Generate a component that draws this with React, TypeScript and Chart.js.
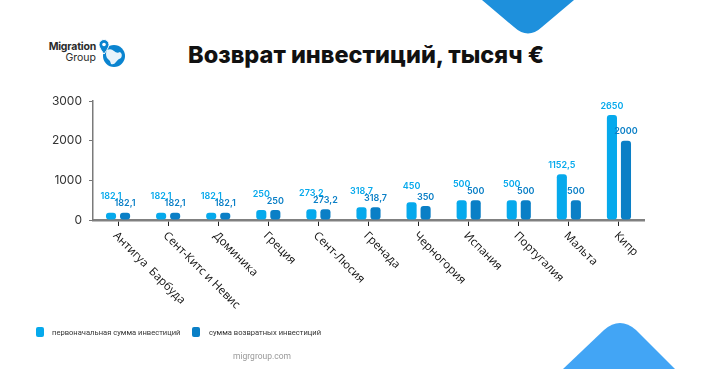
import React, { useEffect, useRef } from "react";
import { Chart, registerables } from "chart.js";
Chart.register(...registerables);

const categories = [
  "Антигуа  Барбуда",
  "Сент-Китс и Невис",
  "Доминика",
  "Греция",
  "Сент-Люсия",
  "Гренада",
  "Черногория",
  "Испания",
  "Португалия",
  "Мальта",
  "Кипр",
];
const initialInvestment = [182.1, 182.1, 182.1, 250, 273.2, 318.7, 450, 500, 500, 1152.5, 2650];
const returnedInvestment = [182.1, 182.1, 182.1, 250, 273.2, 318.7, 350, 500, 500, 500, 2000];
const yTicks = [0, 1000, 2000, 3000];
const seriesNames = ["первоначальная сумма инвестиций", "сумма возвратных инвестиций"];
const seriesColors = ["#06a9ec", "#0a7fc6"];
const title = "Возврат инвестиций, тысяч €";
const footer = "migrgroup.com";

const fmt = (v: number) => String(v).replace(".", ",");

const labelsPlugin = {
  id: "customLabels",
  afterDatasetsDraw(chart: any) {
    const ctx = chart.ctx;
    ctx.save();
    chart.data.datasets.forEach((ds: any, di: number) => {
      const meta = chart.getDatasetMeta(di);
      meta.data.forEach((bar: any, i: number) => {
        const v = ds.data[i];
        const other = chart.data.datasets[1 - di].data[i];
        let off = 9;
        if (di === 0 && v - other < 200) off = 16;
        ctx.font = "600 9px Inter, 'Noto Sans', sans-serif";
        ctx.fillStyle = ds.backgroundColor;
        ctx.textAlign = "center";
        ctx.textBaseline = "middle";
        ctx.fillText(fmt(v), bar.x, bar.y - off);
      });
    });
    const xs = chart.scales.x;
    ctx.font = "500 11.5px 'Open Sans', 'Noto Sans', sans-serif";
    ctx.fillStyle = "#111";
    ctx.textAlign = "left";
    ctx.textBaseline = "middle";
    chart.data.labels.forEach((c: string, i: number) => {
      const x = xs.getPixelForValue(i);
      ctx.save();
      ctx.translate(x - 3, chart.chartArea.bottom + 14);
      ctx.rotate(Math.PI / 4);
      ctx.fillText(c, 0, 0);
      ctx.restore();
    });
    ctx.restore();
  },
};

export default function App() {
  const ref = useRef<HTMLCanvasElement>(null);
  useEffect(() => {
    const chart = new Chart(ref.current!, {
      type: "bar",
      data: {
        labels: categories,
        datasets: [
          {
            label: seriesNames[0],
            data: initialInvestment,
            backgroundColor: seriesColors[0],
            borderRadius: 3,
            borderSkipped: false,
          },
          {
            label: seriesNames[1],
            data: returnedInvestment,
            backgroundColor: seriesColors[1],
            borderRadius: 3,
            borderSkipped: false,
          },
        ],
      },
      options: {
        animation: false,
        responsive: false,
        maintainAspectRatio: false,
        datasets: { bar: { categoryPercentage: 0.56, barPercentage: 0.72 } } as any,
        layout: { padding: { left: 0, top: 101, right: 76, bottom: 0 } },
        plugins: { legend: { display: false }, tooltip: { enabled: false } },
        scales: {
          x: {
            afterFit: (s: any) => {
              s.height = 149;
            },
            ticks: { display: false },
            grid: {
              offset: false,
              drawOnChartArea: false,
              drawTicks: true,
              tickLength: 6,
              color: "#222",
              lineWidth: 1,
            },
            border: { color: "#808080", width: 2.5 },
          },
          y: {
            min: 0,
            max: 3000,
            afterFit: (s: any) => {
              s.width = 93;
            },
            afterBuildTicks: (s: any) => {
              s.ticks = yTicks.map((v) => ({ value: v }));
            },
            ticks: {
              callback: (v: any) => String(v),
              color: "#333",
              padding: 7,
              font: { size: 12, family: "Inter, 'Noto Sans', sans-serif" },
            },
            grid: {
              drawOnChartArea: false,
              drawTicks: true,
              tickLength: 4,
              color: "#777",
            },
            border: { color: "#7a7a7a", width: 1.5 },
          },
        },
      },
      plugins: [labelsPlugin],
    });
    return () => chart.destroy();
  }, []);

  const font = "Inter, 'Noto Sans', sans-serif";
  const legendText = { position: "absolute" as const, top: 327, fontSize: 7.6, lineHeight: "11px", color: "#333", whiteSpace: "nowrap" as const, fontFamily: "Roboto, sans-serif" };
  return (
    <div style={{ position: "fixed", left: 0, top: 0, width: 720, height: 369, background: "#fff", overflow: "hidden", fontFamily: font }}>
      <svg width={720} height={369} style={{ position: "absolute", left: 0, top: 0 }}>
        <path d="M482 0 L574 0 L542 27 Q528 40 514 27 Z" fill="#1e90dc" />
        <path d="M563 369 L604 330 Q620 316 636 330 L675 369 Z" fill="#42a5f5" />
        <circle cx={114} cy={56} r={11} fill="#0a84d0" />
        <path d="M107 50 q4 -2 7 1 q3 3 6 1 q3 2 1 6 q-3 1 -5 4 q-2 3 -5 2 q-1 -4 -4 -6 q-2 -4 0 -8 Z" fill="#fff" opacity={0.9} />
        <path d="M104 54 C100 49 99 46 99 44.5 a5 5 0 0 1 10 0 C109 46 108 49 104 54 Z" fill="#0a84d0" stroke="#fff" strokeWidth={1} />
        <circle cx={104} cy={44.5} r={1.8} fill="#fff" />
      </svg>
      <div style={{ position: "absolute", left: 30, top: 41, width: 66, textAlign: "right", lineHeight: "11px" }}>
        <div style={{ fontSize: 10.5, fontWeight: 700, color: "#2a2a2a", letterSpacing: -0.2 }}>Migration</div>
        <div style={{ fontSize: 10.5, fontWeight: 400, color: "#2a2a2a" }}>Group</div>
      </div>
      <div style={{ position: "absolute", left: 0, width: 732, top: 40, textAlign: "center", fontSize: 23.5, fontWeight: 800, color: "#111", whiteSpace: "nowrap" }}>{title}</div>
      <canvas ref={ref} width={720} height={369} style={{ position: "absolute", left: 0, top: 0 }} />
      <div style={{ position: "absolute", left: 36, top: 327, width: 8, height: 10, borderRadius: 2, background: seriesColors[0] }} />
      <div style={{ ...legendText, left: 52 }}>{seriesNames[0]}</div>
      <div style={{ position: "absolute", left: 192, top: 327, width: 8, height: 10, borderRadius: 2, background: seriesColors[1] }} />
      <div style={{ ...legendText, left: 209 }}>{seriesNames[1]}</div>
      <div style={{ position: "absolute", left: 212, width: 100, top: 351, textAlign: "center", fontSize: 8.5, color: "#999", fontFamily: "Roboto, sans-serif" }}>{footer}</div>
    </div>
  );
}
